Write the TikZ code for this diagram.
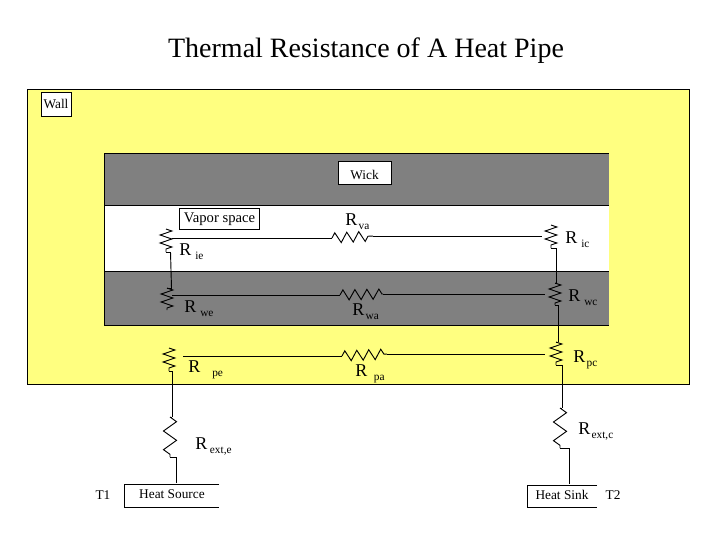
\documentclass[tikz,border=0pt]{standalone}
\usepackage{fontspec}
\usepackage{xcolor}
\usetikzlibrary{decorations.pathmorphing}
\setmainfont{Liberation Serif}
\definecolor{wallyellow}{RGB}{255, 255, 128}
\definecolor{wickgray}{RGB}{128, 128, 128}
% label with spaced subscript: gap, then subscript
\newcommand{\reslabel}[2]{\fontsize{13.5}{15}\selectfont R\hspace{#1}\raisebox{-3pt}{\fontsize{8.5}{10}\selectfont #2}}

\begin{document}
\begin{tikzpicture}[
    x=0.75pt, y=-0.75pt,
    every node/.style={align=center},
    tag/.style={draw=black, fill=white, inner sep=0pt, font=\fontsize{10}{12}\selectfont},
    plain/.style={inner sep=0pt, font=\fontsize{10}{12}\selectfont},
    res/.style={inner sep=0pt, anchor=west},
    wire/.style={line width=0.7pt, black},
    zig/.style 2 args={wire, decorate, decoration={zigzag, segment length=#1, amplitude=#2}},
    openbox/.style={line width=0.7pt, black}
]
\useasboundingbox (0,0) rectangle (720,540);
\fill[white] (0,0) rectangle (720,540);

\node[inner sep=0pt, font=\fontsize{21}{24}\selectfont] (title) at (366,51) {Thermal Resistance of A Heat Pipe};

% Wall and wick layers
\draw[fill=wallyellow, line width=0.7pt] (27,89) rectangle (689,384);
\fill[wickgray] (104,153) rectangle (609,325);
\fill[white] (104,205) rectangle (609,271);
\draw[line width=0.7pt] (609,153) -- (104,153) -- (104,325) -- (609,325);
\draw[line width=0.7pt] (104,205) -- (609,205);
\draw[line width=0.7pt] (104,271) -- (609,271);

\node[tag, minimum width=22.5pt, minimum height=18pt] (wall) at (56,104) {Wall};
\node[tag, minimum width=39.5pt, minimum height=17pt, text height=9pt, text depth=0pt] (wick) at (364.5,173) {Wick};
\node[tag, minimum width=60pt, minimum height=16pt, font=\fontsize{11}{12}\selectfont] (vapor) at (219.5,219) {Vapor space};

% Heat source and sink
\draw[openbox] (219,484) -- (124.5,484) -- (124.5,507) -- (219,507);
\node[plain] (source) at (172,494) {Heat Source};
\draw[openbox] (597,485) -- (527.5,485) -- (527.5,507) -- (597,507);
\node[plain] (sink) at (562,495) {Heat Sink};
\node[plain] (tone) at (103,495) {T1};
\node[plain] (ttwo) at (613,495) {T2};
\coordinate (source_top) at (176.5,483);
\coordinate (sink_top) at (569.5,484);

% Resistor end points
\coordinate (ie_a) at (166,229); \coordinate (ie_b) at (166,252);
\coordinate (we_a) at (167,288); \coordinate (we_b) at (167,310);
\coordinate (pe_a) at (169,348); \coordinate (pe_b) at (169,371);
\coordinate (ic_a) at (551,225); \coordinate (ic_b) at (551,248);
\coordinate (wc_a) at (555,283); \coordinate (wc_b) at (555,305);
\coordinate (pc_a) at (556,342); \coordinate (pc_b) at (556,365);
\coordinate (va_a) at (332,238); \coordinate (va_b) at (373,236);
\coordinate (wa_a) at (340,295); \coordinate (wa_b) at (383,294);
\coordinate (pa_a) at (342,356); \coordinate (pa_b) at (387,354);
\coordinate (exte_a) at (170,417); \coordinate (exte_b) at (170,457);
\coordinate (extc_a) at (560,408); \coordinate (extc_b) at (560,448);

% Wire junctions
\coordinate (ie_side) at (172,238);
\coordinate (we_side) at (172,295);
\coordinate (pe_side) at (183,356);
\coordinate (ie_foot) at (170.5,252);
\coordinate (we_head) at (171.5,288);
\coordinate (ic_side) at (542,236);
\coordinate (wc_side) at (545,294);
\coordinate (pc_side) at (545,354);
\coordinate (ic_foot) at (556.5,248);
\coordinate (wc_head) at (556.5,283);
\coordinate (wc_foot) at (558,305);
\coordinate (pc_head) at (558,342);
\coordinate (pc_foot) at (562,365);
\coordinate (extc_head) at (562,408);
\coordinate (extc_foot) at (569.5,448);
\coordinate (pe_foot) at (172,371);
\coordinate (exte_head) at (172,417);
\coordinate (exte_foot) at (176.5,457);

% Resistors
\foreach \a/\b in {ie_a/ie_b, we_a/we_b, pe_a/pe_b, ic_a/ic_b, wc_a/wc_b, pc_a/pc_b}
    \draw[zig={6pt}{4.4pt}] (\a) -- (\b);
\foreach \a/\b in {va_a/va_b, wa_a/wa_b, pa_a/pa_b}
    \draw[zig={9pt}{3.8pt}] (\a) -- (\b);
\foreach \a/\b in {exte_a/exte_b, extc_a/extc_b}
    \draw[zig={14pt}{4.9pt}] (\a) -- (\b);

% Wires
\foreach \a/\b in {ie_side/va_a, we_side/wa_a, pe_side/pa_a, va_b/ic_side, wa_b/wc_side, pa_b/pc_side,
    ie_b/ie_foot, ie_foot/we_head, we_head/we_a, ic_b/ic_foot, ic_foot/wc_head, wc_head/wc_a,
    wc_b/wc_foot, wc_foot/pc_head, pc_head/pc_a, pc_b/pc_foot, pc_foot/extc_head, extc_head/extc_a,
    extc_b/extc_foot, extc_foot/sink_top, pe_b/pe_foot, pe_foot/exte_head, exte_head/exte_a,
    exte_b/exte_foot, exte_foot/source_top}
    \draw[wire] (\a) -- (\b);

% Resistor labels
\node[res] (ie_lbl) at (179,252) {\reslabel{3pt}{ie}};
\node[res] (we_lbl) at (184,309) {\reslabel{3pt}{we}};
\node[res] (pe_lbl) at (188,370) {\reslabel{9pt}{pe}};
\node[res] (ic_lbl) at (565,240) {\reslabel{3pt}{ic}};
\node[res] (wc_lbl) at (568,298) {\reslabel{3pt}{wc}};
\node[res] (pc_lbl) at (573,360) {\reslabel{1pt}{pc}};
\node[res] (va_lbl) at (345,222) {\reslabel{1pt}{va}};
\node[res] (wa_lbl) at (352,312) {\reslabel{1pt}{wa}};
\node[res] (pa_lbl) at (355,374) {\reslabel{5pt}{pa}};
\node[res] (exte_lbl) at (195,446) {\reslabel{2pt}{ext,e}};
\node[res] (extc_lbl) at (578,431) {\reslabel{1pt}{ext,c}};

\end{tikzpicture}
\end{document}
